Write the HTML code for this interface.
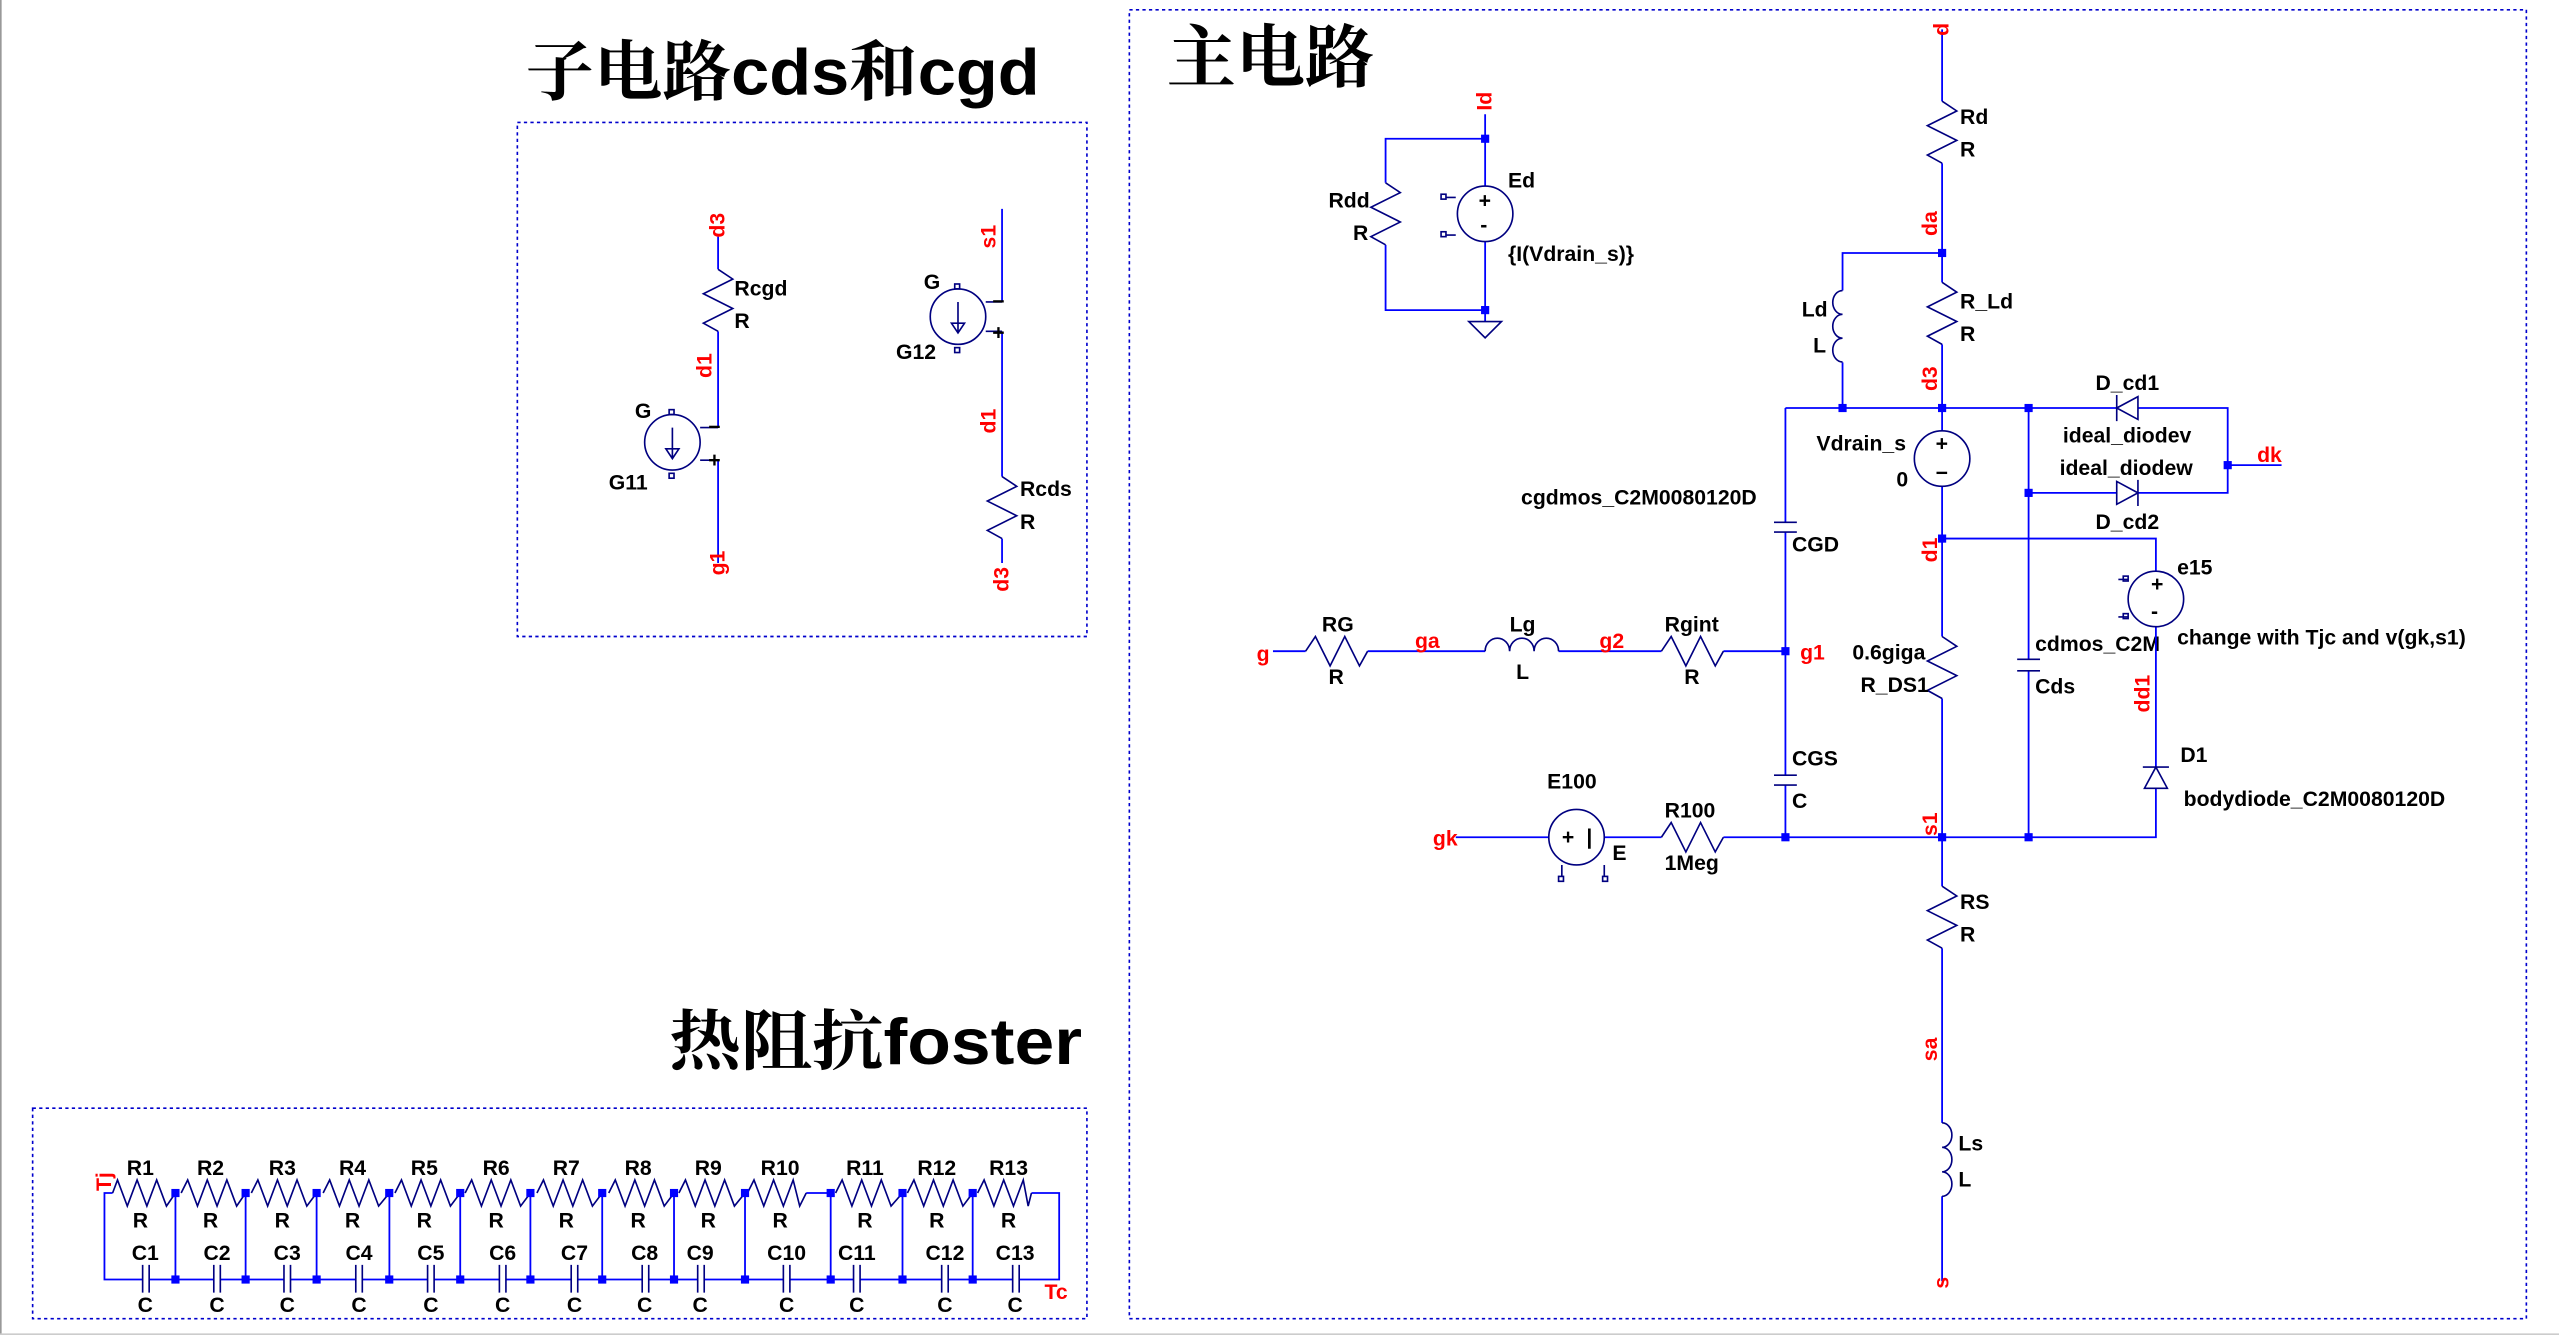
<!DOCTYPE html>
<html><head><meta charset="utf-8"><style>
html,body{margin:0;padding:0;background:#fff;}
svg{display:block;}
.w{stroke:#0000ff;stroke-width:1.1;fill:none;}
.c{stroke:#000080;stroke-width:1;fill:none;}
.f{stroke:#0000cc;stroke-width:1;fill:none;stroke-dasharray:2,2;}
.t{font-family:"Liberation Sans Narrow","Liberation Sans",sans-serif;font-weight:bold;font-size:13px;fill:#000;}
.r{font-family:"Liberation Sans",sans-serif;font-weight:bold;font-size:13px;fill:#ff0000;}
.j{fill:#0000ff;}
.h{font-family:"Liberation Sans","Noto Serif CJK SC",serif;font-weight:bold;fill:#000;}
</style></head><body>
<svg width="2559" height="1336" viewBox="0 0 1568 818.6" xmlns="http://www.w3.org/2000/svg">
<rect x="0" y="0" width="1568" height="818.6" fill="#fff"/>
<line x1="0.5" y1="0" x2="0.5" y2="818" stroke="#999"/>
<line x1="0" y1="817.5" x2="1568" y2="817.5" stroke="#ccc"/>
<!-- frames -->
<rect class="f" x="317" y="75" width="349" height="315"/>
<rect class="f" x="692" y="6" width="856" height="802"/>
<rect class="f" x="20" y="679" width="646" height="129"/>
<!-- titles -->
<text class="h" x="322" y="58" font-size="40" textLength="315" lengthAdjust="spacingAndGlyphs"><tspan font-family="Noto Serif CJK SC,serif">子电路</tspan>cds<tspan font-family="Noto Serif CJK SC,serif">和</tspan>cgd</text>
<text class="h" x="715" y="50" font-size="42" font-weight="normal" font-family="Noto Serif CJK SC,serif" textLength="127" lengthAdjust="spacingAndGlyphs">主电路</text>
<text class="h" x="410" y="652" font-size="40" textLength="253" lengthAdjust="spacingAndGlyphs"><tspan font-family="Noto Serif CJK SC,serif">热阻抗</tspan>foster</text>

<!-- ===== subcircuit ===== -->
<path class="w" d="M440,145 V165 M440,203 V262 M440,282 V345"/>
<polyline class="c" points="440,165 449,171 431,180 449,189 431,198 440,203"/>
<circle class="c" cx="412" cy="271" r="17"/>
<path class="c" d="M412,262 V280 M408,275 L412,281 L416,275 Z M429,262 H440 M429,282 H440"/>
<text class="t" x="434" y="266" font-size="9">−</text><text class="t" x="434" y="286" font-size="9">+</text>
<rect class="c" x="410" y="251" width="3" height="3"/><rect class="c" x="410" y="290" width="3" height="3"/>
<text class="r" transform="translate(444,138) rotate(-90)" text-anchor="middle">d3</text>
<text class="r" transform="translate(436,224) rotate(-90)" text-anchor="middle">d1</text>
<text class="r" transform="translate(444,345) rotate(-90)" text-anchor="middle">g1</text>
<text class="t" x="450" y="181">Rcgd</text><text class="t" x="450" y="201">R</text>
<text class="t" x="389" y="256">G</text><text class="t" x="373" y="300">G11</text>

<path class="w" d="M614,128 V185 M614,203 V292 M614,330 V345"/>
<polyline class="c" points="614,292 623,298 605,307 623,316 605,325 614,330"/>
<circle class="c" cx="587" cy="194" r="17"/>
<path class="c" d="M587,185 V203 M583,198 L587,204 L591,198 Z M604,185 H614 M604,203 H614"/>
<text class="t" x="608" y="189" font-size="9">−</text><text class="t" x="608" y="208" font-size="9">+</text>
<rect class="c" x="585" y="174" width="3" height="3"/><rect class="c" x="585" y="213" width="3" height="3"/>
<text class="r" transform="translate(610,145) rotate(-90)" text-anchor="middle">s1</text>
<text class="r" transform="translate(610,258) rotate(-90)" text-anchor="middle">d1</text>
<text class="r" transform="translate(618,355) rotate(-90)" text-anchor="middle">d3</text>
<text class="t" x="566" y="177">G</text><text class="t" x="549" y="220">G12</text>
<text class="t" x="625" y="304">Rcds</text><text class="t" x="625" y="324">R</text>

<!-- ===== main circuit ===== -->
<!-- Ed block -->
<path class="w" d="M910,70 V114 M910,148 V197 M910,85 H849 V112 M849,150 V190 H910"/>
<polyline class="c" points="849,112 858,118 840,127 858,136 840,145 849,150"/>
<circle class="c" cx="910" cy="131" r="17"/>
<text class="t" x="906" y="127" font-size="9" font-weight="normal">+</text><text class="t" x="907" y="142" font-size="9" font-weight="normal">-</text>
<path class="c" d="M886,121 H892 M886,144 H892"/>
<rect class="c" x="883" y="119" width="3" height="3"/><rect class="c" x="883" y="142" width="3" height="3"/>
<path class="c" d="M900,197 H920 L910,207 Z"/>
<rect class="j" x="907.5" y="82.5" width="5" height="5"/><rect class="j" x="907.5" y="187.5" width="5" height="5"/>
<text class="r" transform="translate(914,62) rotate(-90)" text-anchor="middle">Id</text>
<text class="t" x="924" y="115">Ed</text><text class="t" x="924" y="160">{I(Vdrain_s)}</text>
<text class="t" x="814" y="127">Rdd</text><text class="t" x="829" y="147">R</text>

<!-- drain column -->
<path class="w" d="M1190,18 V62 M1190,100 V173 M1190,211 V264 M1190,298 V390 M1190,428 V543 M1190,581 V688 M1190,733 V785"/>
<polyline class="c" points="1190,62 1199,68 1181,77 1199,86 1181,95 1190,100"/>
<polyline class="c" points="1190,173 1199,179 1181,188 1199,197 1181,206 1190,211"/>
<polyline class="c" points="1190,390 1199,396 1181,405 1199,414 1181,423 1190,428"/>
<polyline class="c" points="1190,543 1199,549 1181,558 1199,567 1181,576 1190,581"/>
<path class="c" d="M1190,688 a6,7.5 0 0 1 0,15 a6,7.5 0 0 1 0,15 a6,7.5 0 0 1 0,15"/>
<circle class="c" cx="1190" cy="281" r="17"/>
<text class="t" x="1186" y="276" font-size="11" font-weight="normal">+</text><text class="t" x="1186" y="294" font-size="11" font-weight="normal">−</text>
<text class="r" transform="translate(1194,18) rotate(-90)" text-anchor="middle">d</text>
<text class="r" transform="translate(1187,137) rotate(-90)" text-anchor="middle">da</text>
<text class="r" transform="translate(1187,232) rotate(-90)" text-anchor="middle">d3</text>
<text class="r" transform="translate(1187,337) rotate(-90)" text-anchor="middle">d1</text>
<text class="r" transform="translate(1187,505) rotate(-90)" text-anchor="middle">s1</text>
<text class="r" transform="translate(1187,643) rotate(-90)" text-anchor="middle">sa</text>
<text class="r" transform="translate(1194,786) rotate(-90)" text-anchor="middle">s</text>
<text class="t" x="1201" y="76">Rd</text><text class="t" x="1201" y="96">R</text>
<text class="t" x="1201" y="189">R_Ld</text><text class="t" x="1201" y="209">R</text>
<text class="t" x="1113" y="276">Vdrain_s</text><text class="t" x="1162" y="298">0</text>
<text class="t" x="1135" y="404">0.6giga</text><text class="t" x="1140" y="424">R_DS1</text>
<text class="t" x="1201" y="557">RS</text><text class="t" x="1201" y="577">R</text>
<text class="t" x="1200" y="705">Ls</text><text class="t" x="1200" y="727">L</text>

<!-- Ld -->
<path class="w" d="M1190,155 H1129 V178 M1129,222 V250"/>
<path class="c" d="M1129,178 a6,7.3 0 0 0 0,14.6 a6,7.3 0 0 0 0,14.6 a6,7.3 0 0 0 0,14.6"/>
<text class="t" x="1104" y="194">Ld</text><text class="t" x="1111" y="216">L</text>

<!-- top bus y=250 -->
<path class="w" d="M1094,250 H1297 M1310,250 H1365 V302 H1310 M1297,302 H1243 M1365,285 H1398"/>
<path class="c" d="M1297,242 V258 M1297,250 L1310,243 V257 Z"/>
<path class="c" d="M1310,294 V310 M1310,302 L1297,295 V309 Z"/>
<text class="t" x="1284" y="239">D_cd1</text><text class="t" x="1264" y="271">ideal_diodev</text>
<text class="t" x="1262" y="291">ideal_diodew</text><text class="t" x="1284" y="324">D_cd2</text>
<text class="r" x="1383" y="283">dk</text>

<!-- Cds column -->
<path class="w" d="M1243,250 V404 M1243,411 V513"/>
<path class="c" d="M1236,404 H1250 M1236,411 H1250"/>
<text class="t" x="1247" y="399">cdmos_C2M</text><text class="t" x="1247" y="425">Cds</text>

<!-- e15 / D1 column -->
<path class="w" d="M1190,330 H1321 V350 M1321,384 V470 M1321,483 V513 H1094"/>
<circle class="c" cx="1321" cy="367" r="17"/>
<text class="t" x="1318" y="362" font-size="9" font-weight="normal">+</text><text class="t" x="1318" y="379" font-size="9" font-weight="normal">-</text>
<path class="c" d="M1304,355 H1298 M1304,378 H1298"/>
<rect class="c" x="1301" y="353" width="3" height="3"/><rect class="c" x="1301" y="376" width="3" height="3"/>
<path class="c" d="M1313,470 H1329 M1321,470 L1314,483 H1328 Z"/>
<text class="t" x="1334" y="352">e15</text><text class="t" x="1334" y="395">change with Tjc and v(gk,s1)</text>
<text class="r" transform="translate(1317,425) rotate(-90)" text-anchor="middle">dd1</text>
<text class="t" x="1336" y="467">D1</text><text class="t" x="1338" y="494">bodydiode_C2M0080120D</text>

<!-- CGD/CGS column -->
<path class="w" d="M1094,250 V320 M1094,326 V475 M1094,481 V513"/>
<path class="c" d="M1087,320 H1101 M1087,326 H1101 M1087,475 H1101 M1087,481 H1101"/>
<text class="t" x="932" y="309">cgdmos_C2M0080120D</text><text class="t" x="1098" y="338">CGD</text>
<text class="t" x="1098" y="469">CGS</text><text class="t" x="1098" y="495">C</text>
<text class="r" x="1103" y="404">g1</text>

<!-- gate line -->
<path class="w" d="M780,399 H800 M838,399 H910 M955,399 H1018 M1056,399 H1094"/>
<polyline class="c" points="800,399 806,390 815,408 824,390 833,408 838,399"/>
<polyline class="c" points="1018,399 1024,390 1033,408 1042,390 1051,408 1056,399"/>
<path class="c" d="M910,399 a7.5,8 0 0 1 15,0 a7.5,8 0 0 1 15,0 a7.5,8 0 0 1 15,0"/>
<text class="r" x="770" y="405">g</text><text class="r" x="867" y="397">ga</text><text class="r" x="980" y="397">g2</text>
<text class="t" x="810" y="387">RG</text><text class="t" x="814" y="419">R</text>
<text class="t" x="925" y="387">Lg</text><text class="t" x="929" y="416">L</text>
<text class="t" x="1020" y="387">Rgint</text><text class="t" x="1032" y="419">R</text>

<!-- gk line -->
<path class="w" d="M892,513 H949 M983,513 H1018 M1056,513 H1094"/>
<circle class="c" cx="966" cy="513" r="17"/>
<text class="t" x="957" y="517" font-size="8" font-weight="normal">+</text><text class="t" x="972" y="517" font-size="8" font-weight="normal">|</text>
<path class="c" d="M957,530 V537 M983,530 V537"/>
<rect class="c" x="955" y="537" width="3" height="3"/><rect class="c" x="982" y="537" width="3" height="3"/>
<polyline class="c" points="1018,513 1024,504 1033,522 1042,504 1051,522 1056,513"/>
<text class="r" x="878" y="518">gk</text>
<text class="t" x="948" y="483">E100</text><text class="t" x="988" y="527">E</text>
<text class="t" x="1020" y="501">R100</text><text class="t" x="1020" y="533">1Meg</text>

<!-- junctions main -->
<g class="j">
<rect x="1187.5" y="152.5" width="5" height="5"/>
<rect x="1126.5" y="247.5" width="5" height="5"/>
<rect x="1187.5" y="247.5" width="5" height="5"/>
<rect x="1240.5" y="247.5" width="5" height="5"/>
<rect x="1240.5" y="299.5" width="5" height="5"/>
<rect x="1362.5" y="282.5" width="5" height="5"/>
<rect x="1187.5" y="327.5" width="5" height="5"/>
<rect x="1091.5" y="396.5" width="5" height="5"/>
<rect x="1091.5" y="510.5" width="5" height="5"/>
<rect x="1187.5" y="510.5" width="5" height="5"/>
<rect x="1240.5" y="510.5" width="5" height="5"/>
</g>

<!-- ===== foster ===== -->
<path class="w" d="M69,731 H64 V784 H649 V731 H632 M494,731 H509"/>
<g class="w">
<path d="M107.5,731 V784 M150.5,731 V784 M194,731 V784 M238.6,731 V784 M282,731 V784 M325,731 V784 M369,731 V784 M413,731 V784 M456.5,731 V784 M509,731 V784 M553,731 V784 M596,731 V784"/>
</g>
<g class="c">
<polyline points="69,731 72,723 78,739 84,723 90,739 96,723 102,739 107.5,731"/>
<polyline points="111,731 115,723 121,739 127,723 133,739 139,723 145,739 150.5,731"/>
<polyline points="154,731 158,723 164,739 170,723 176,739 182,723 188,739 194,731"/>
<polyline points="198,731 202,723 208,739 214,723 220,739 226,723 232,739 238.6,731"/>
<polyline points="242,731 246,723 252,739 258,723 264,739 270,723 276,739 282,731"/>
<polyline points="285,731 289,723 295,739 301,723 307,739 313,723 319,739 325,731"/>
<polyline points="329,731 333,723 339,739 345,723 351,739 357,723 363,739 369,731"/>
<polyline points="373,731 377,723 383,739 389,723 395,739 401,723 407,739 413,731"/>
<polyline points="416,731 420,723 426,739 432,723 438,739 444,723 450,739 456.5,731"/>
<polyline points="458,731 462,723 468,739 474,723 480,739 486,723 490,739 494,731"/>
<polyline points="512,731 516,723 522,739 528,723 534,739 540,723 546,739 553,731"/>
<polyline points="556,731 560,723 566,739 572,723 578,739 584,723 590,739 596,731"/>
<polyline points="599,731 603,723 609,739 615,723 621,739 627,723 630,739 632,731"/>
</g>
<g fill="#fff" stroke="none">
<rect x="87.6" y="780" width="3.6" height="8"/><rect x="131.2" y="780" width="3.6" height="8"/><rect x="174.2" y="780" width="3.6" height="8"/><rect x="218.2" y="780" width="3.6" height="8"/><rect x="262.2" y="780" width="3.6" height="8"/><rect x="306.2" y="780" width="3.6" height="8"/><rect x="350.2" y="780" width="3.6" height="8"/><rect x="393.7" y="780" width="3.6" height="8"/><rect x="427.7" y="780" width="3.6" height="8"/><rect x="480.2" y="780" width="3.6" height="8"/><rect x="523.2" y="780" width="3.6" height="8"/><rect x="577.2" y="780" width="3.6" height="8"/><rect x="620.7" y="780" width="3.6" height="8"/>
</g>
<g class="c">
<path d="M87.4,775 V792 M91.4,775 V792 M131,775 V792 M135,775 V792 M174,775 V792 M178,775 V792 M218,775 V792 M222,775 V792 M262,775 V792 M266,775 V792 M306,775 V792 M310,775 V792 M350,775 V792 M354,775 V792 M393.5,775 V792 M397.5,775 V792 M427.5,775 V792 M431.5,775 V792 M480,775 V792 M484,775 V792 M523,775 V792 M527,775 V792 M577,775 V792 M581,775 V792 M620.5,775 V792 M624.5,775 V792"/>
</g>
<g class="j">
<rect x="105" y="728.5" width="5" height="5"/><rect x="148" y="728.5" width="5" height="5"/><rect x="191.5" y="728.5" width="5" height="5"/><rect x="236" y="728.5" width="5" height="5"/><rect x="279.5" y="728.5" width="5" height="5"/><rect x="322.5" y="728.5" width="5" height="5"/><rect x="366.5" y="728.5" width="5" height="5"/><rect x="410.5" y="728.5" width="5" height="5"/><rect x="454" y="728.5" width="5" height="5"/><rect x="506.5" y="728.5" width="5" height="5"/><rect x="550.5" y="728.5" width="5" height="5"/><rect x="593.5" y="728.5" width="5" height="5"/>
<rect x="105" y="781.5" width="5" height="5"/><rect x="148" y="781.5" width="5" height="5"/><rect x="191.5" y="781.5" width="5" height="5"/><rect x="236" y="781.5" width="5" height="5"/><rect x="279.5" y="781.5" width="5" height="5"/><rect x="322.5" y="781.5" width="5" height="5"/><rect x="366.5" y="781.5" width="5" height="5"/><rect x="410.5" y="781.5" width="5" height="5"/><rect x="454" y="781.5" width="5" height="5"/><rect x="506.5" y="781.5" width="5" height="5"/><rect x="550.5" y="781.5" width="5" height="5"/><rect x="593.5" y="781.5" width="5" height="5"/>
</g>
<g class="t" text-anchor="middle">
<text x="86" y="720">R1</text><text x="129" y="720">R2</text><text x="173" y="720">R3</text><text x="216" y="720">R4</text><text x="260" y="720">R5</text><text x="304" y="720">R6</text><text x="347" y="720">R7</text><text x="391" y="720">R8</text><text x="434" y="720">R9</text><text x="478" y="720">R10</text><text x="530" y="720">R11</text><text x="574" y="720">R12</text><text x="618" y="720">R13</text>
<text x="86" y="752">R</text><text x="129" y="752">R</text><text x="173" y="752">R</text><text x="216" y="752">R</text><text x="260" y="752">R</text><text x="304" y="752">R</text><text x="347" y="752">R</text><text x="391" y="752">R</text><text x="434" y="752">R</text><text x="478" y="752">R</text><text x="530" y="752">R</text><text x="574" y="752">R</text><text x="618" y="752">R</text>
<text x="89" y="772">C1</text><text x="133" y="772">C2</text><text x="176" y="772">C3</text><text x="220" y="772">C4</text><text x="264" y="772">C5</text><text x="308" y="772">C6</text><text x="352" y="772">C7</text><text x="395" y="772">C8</text><text x="429" y="772">C9</text><text x="482" y="772">C10</text><text x="525" y="772">C11</text><text x="579" y="772">C12</text><text x="622" y="772">C13</text>
<text x="89" y="804">C</text><text x="133" y="804">C</text><text x="176" y="804">C</text><text x="220" y="804">C</text><text x="264" y="804">C</text><text x="308" y="804">C</text><text x="352" y="804">C</text><text x="395" y="804">C</text><text x="429" y="804">C</text><text x="482" y="804">C</text><text x="525" y="804">C</text><text x="579" y="804">C</text><text x="622" y="804">C</text>
</g>
<text class="r" transform="translate(68,724) rotate(-90)" text-anchor="middle">Tj</text>
<text class="r" x="640" y="796">Tc</text>
</svg>
</body></html>
